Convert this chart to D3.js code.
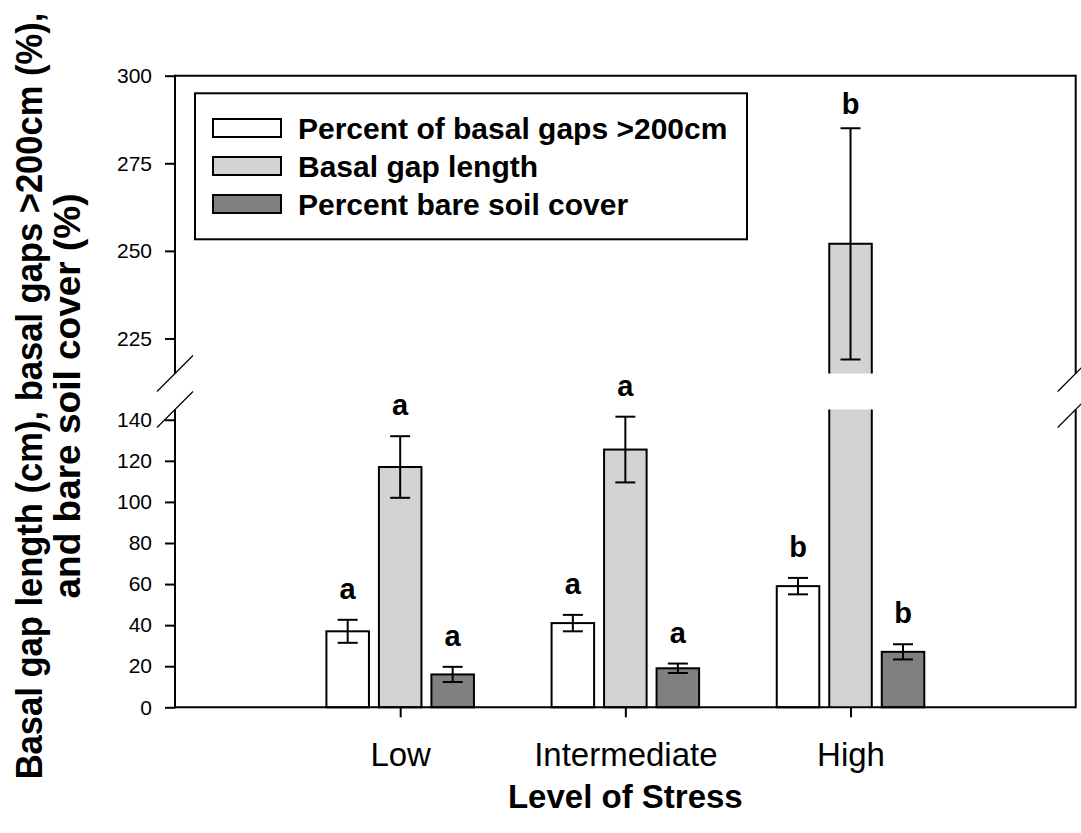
<!DOCTYPE html>
<html>
<head>
<meta charset="utf-8">
<script src="https://cdn.jsdelivr.net/npm/d3@7"></script>
<style>
  body { margin: 0; background: #fff; }
  svg { font-family: "Liberation Sans", Arial, sans-serif; }
</style>
</head>
<body>
<svg id="chart"></svg>
<script>
// stress levels and series
const levels = ["Low", "Intermediate", "High"];
const seriesNames = ["Percent of basal gaps >200cm", "Basal gap length", "Percent bare soil cover"];

// means per series, one value per level
const pctGaps   = [37, 41, 59];
const gapLength = [117, 125.5, 252];
const bareSoil  = [16, 19, 27];

// standard errors
const pctGapsErr   = [5.6, 4, 4];
const gapLengthErr = [15, 16, 33];
const bareSoilErr  = [3.7, 2.3, 3.7];

// significance letters
const pctGapsLetters   = ["a", "a", "b"];
const gapLengthLetters = ["a", "a", "b"];
const bareSoilLetters  = ["a", "a", "b"];

// y ticks for the two axis segments
const lowerTicks = [0, 20, 40, 60, 80, 100, 120, 140];
const upperTicks = [225, 250, 275, 300];
const breakLow = 145, breakHigh = 215;

const fills = ["#ffffff", "#d3d3d3", "#808080"];

const series = [
  { name: seriesNames[0], values: pctGaps, errs: pctGapsErr, letters: pctGapsLetters },
  { name: seriesNames[1], values: gapLength, errs: gapLengthErr, letters: gapLengthLetters },
  { name: seriesNames[2], values: bareSoil, errs: bareSoilErr, letters: bareSoilLetters }
];

const W = 1081, H = 833;
const svg = d3.select("#chart").attr("width", W).attr("height", H);

const mLeft = 175, mRight = 1075.7, mTop = 75.7, mBottom = 707.3;
const breakTopY = 373.5, breakBotY = 409.5;

// --- SCALES ---
const x = d3.scaleLinear().domain([0, 4]).range([mLeft, mRight]);
const xInner = d3.scaleBand().domain(d3.range(3))
  .range([-78.75, 78.75]).paddingInner(0.19).paddingOuter(0.095);

const yLow = d3.scaleLinear().domain([0, breakLow]).range([mBottom, breakBotY]);
const yHigh = d3.scaleLinear().domain([breakHigh, 300]).range([breakTopY, mTop]);
const y = v => v <= breakLow ? yLow(v) : yHigh(v);

const g = svg.append("g");

// --- BARS ---
series.forEach((s, si) => {
  s.values.forEach((v, li) => {
    const x0 = x(li + 1) + xInner(si);
    const w = xInner.bandwidth();
    if (v <= breakLow) {
      g.append("rect")
        .attr("x", x0).attr("y", y(v))
        .attr("width", w).attr("height", mBottom - y(v))
        .attr("fill", fills[si])
        .attr("stroke", "#000").attr("stroke-width", 2);
    } else {
      // broken bar: lower part and upper part, open at the break
      [[0, breakLow], [breakHigh, v]].forEach(([a, b], k) => {
        g.append("rect")
          .attr("x", x0).attr("y", y(b))
          .attr("width", w).attr("height", y(a) - y(b))
          .attr("fill", fills[si]);
        const p = d3.path();
        p.moveTo(x0, y(a)); p.lineTo(x0, y(b));
        if (k === 1) p.lineTo(x0 + w, y(b));
        else p.moveTo(x0 + w, y(b));
        p.lineTo(x0 + w, y(a));
        g.append("path").attr("d", p.toString())
          .attr("fill", "none").attr("stroke", "#000").attr("stroke-width", 2);
      });
    }

    // error bar
    const cx = x0 + w / 2;
    const e = s.errs[li];
    const eb = g.append("g").attr("stroke", "#000").attr("stroke-width", 2);
    eb.append("line").attr("x1", cx).attr("x2", cx).attr("y1", y(v + e)).attr("y2", y(v - e));
    eb.append("line").attr("x1", cx - 10).attr("x2", cx + 10).attr("y1", y(v + e)).attr("y2", y(v + e));
    eb.append("line").attr("x1", cx - 10).attr("x2", cx + 10).attr("y1", y(v - e)).attr("y2", y(v - e));

    // letter
    g.append("text")
      .attr("x", cx)
      .attr("y", y(v + e) - (v > breakLow ? 14 : 21))
      .attr("text-anchor", "middle")
      .style("font-size", "29px").style("font-weight", "700")
      .text(s.letters[li]);
  });
});

// --- AXES ---
const axisLow = svg.append("g").attr("transform", `translate(${mLeft},0)`)
  .call(d3.axisLeft(yLow).tickValues(lowerTicks).tickSize(10).tickPadding(13));
const axisHigh = svg.append("g").attr("transform", `translate(${mLeft},0)`)
  .call(d3.axisLeft(yHigh).tickValues(upperTicks).tickSize(10).tickPadding(13));
[axisLow, axisHigh].forEach(a => {
  a.attr("font-family", null);
  a.select(".domain").remove();
  a.selectAll("line").attr("stroke-width", 2);
  a.selectAll("text").style("font-size", "21px");
});

const xAxis = svg.append("g").attr("transform", `translate(0,${mBottom})`)
  .call(d3.axisBottom(x).tickValues([1, 2, 3]).tickFormat(d => levels[d - 1])
    .tickSize(10).tickPadding(25));
xAxis.attr("font-family", null);
xAxis.select(".domain").remove();
xAxis.selectAll("line").attr("stroke-width", 2);
xAxis.selectAll("text").style("font-size", "33px");

// frame lines with breaks
const frame = svg.append("g").attr("stroke", "#000").attr("stroke-width", 2).attr("fill", "none");
frame.append("path").attr("d", `M${mLeft},${mBottom}H${mRight}`);
frame.append("path").attr("d", `M${mLeft},${mTop}H${mRight}`);
[mLeft, mRight].forEach(xx => {
  frame.append("path").attr("d", `M${xx},${mTop - 1}V${breakTopY}`);
  frame.append("path").attr("d", `M${xx},${breakBotY}V${mBottom + 1}`);
  // break slashes
  [breakTopY, breakBotY].forEach(yy => {
    frame.append("path").attr("stroke-width", 1.3)
      .attr("d", `M${xx - 18},${yy + 18}L${xx + 18},${yy - 18}`);
  });
});

// --- LEGEND ---
const legend = svg.append("g");
legend.append("rect")
  .attr("x", 195).attr("y", 93.3).attr("width", 552).attr("height", 146)
  .attr("fill", "#fff").attr("stroke", "#000").attr("stroke-width", 2);
seriesNames.forEach((n, i) => {
  const yy = 119 + i * 38;
  legend.append("rect")
    .attr("x", 213).attr("y", yy).attr("width", 68).attr("height", 18)
    .attr("fill", fills[i]).attr("stroke", "#000").attr("stroke-width", 2);
  legend.append("text")
    .attr("x", 298).attr("y", yy + 20)
    .style("font-size", "30px").style("font-weight", "700")
    .text(n);
});

// --- AXIS TITLES ---
svg.append("text")
  .attr("x", x(2)).attr("y", 808)
  .attr("text-anchor", "middle")
  .style("font-size", "33px").style("font-weight", "700")
  .text("Level of Stress");

// two-line rotated y title, each line squeezed along its length
const yTitleLines = [
  { text: "Basal gap length (cm), basal gaps >200cm (%),", base: 42, len: 767 },
  { text: "and bare soil cover (%)", base: 80, len: 405 }
];
yTitleLines.forEach(l => {
  const t = svg.append("text")
    .style("font-size", "36px").style("font-weight", "700")
    .attr("text-anchor", "middle")
    .text(l.text);
  const sc = l.len / t.node().getComputedTextLength();
  t.attr("transform", `translate(${l.base},396) rotate(-90) scale(${sc},1)`);
});
</script>
</body>
</html>
